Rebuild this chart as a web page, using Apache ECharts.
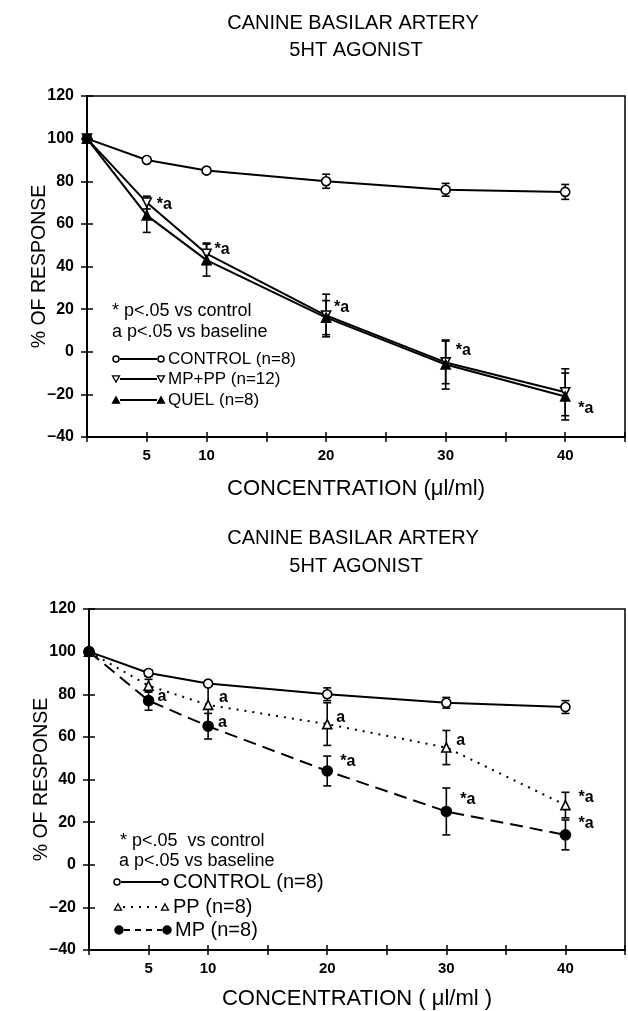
<!DOCTYPE html>
<html><head><meta charset="utf-8">
<script src="https://cdn.jsdelivr.net/npm/echarts@6/dist/echarts.min.js"></script>
<style>html,body{margin:0;padding:0;background:#fff}#c{width:628px;height:1011px}</style>
</head><body><div id="c"></div>
<script>
// ---- data ----
const concentrations = [0, 5, 10, 20, 30, 40];
const xTickLabels = [5, 10, 20, 30, 40];
const titleLine1 = 'CANINE BASILAR ARTERY';
const titleLine2 = '5HT AGONIST';

// top panel
const topControl    = [100, 90, 85, 80, 76, 75];
const topControlErr = [0, 0, 0, 3.3, 3, 3.5];
const topMpPp       = [100, 70, 46, 17, -5, -19];
const topMpPpErr    = [0, 3, 5, 10, 10, 11];
const topQuel       = [100, 64, 43, 16, -6, -21];
const topQuelErr    = [0, 8, 7.5, 8, 11.5, 11];
const topMpPpNotes  = ['', '*a', '*a', '*a', '*a', '*a'];

// bottom panel
const botControl    = [100, 90, 85, 80, 76, 74];
const botControlErr = [0, 1.5, 1, 3, 2.5, 3];
const botPp         = [100, 84, 75, 66, 55, 28];
const botPpErr      = [0, 3, 9, 10, 8, 6];
const botMp         = [100, 77, 65, 44, 25, 14];
const botMpErr      = [0, 4.5, 6, 7, 11, 7];
const botPpNotes    = ['', '', 'a', 'a', 'a', '*a'];
const botMpNotes    = ['', 'a', 'a', '*a', '*a', '*a'];

// label placement (pixels)
const topMpPpNoteOff = [null, [10, 2], [8, -4], [8, -8], [10, -12], [13, 16]];
const botPpNoteOff   = [null, null, [11, -7], [9, -6], [10, -7], [13, -7]];
const botMpNoteOff   = [null, [9, -4], [10, -4], [13, -9], [14, -12], [13, -11]];

const FONT = '"Liberation Sans", Arial, Helvetica, sans-serif';
const BLACK = '#000';

const chart = echarts.init(document.getElementById('c'), null, {renderer: 'canvas'});

const grids = [
  {left: 87, top: 96, width: 538, height: 341, show: true, borderColor: BLACK, borderWidth: 1.5, backgroundColor: 'transparent'},
  {left: 89, top: 609, width: 537, height: 342, show: true, borderColor: BLACK, borderWidth: 1.5, backgroundColor: 'transparent'}
];

function xAxes(gi, name, gap) {
  const main = {
    type: 'value', gridIndex: gi, min: 0, max: 45, interval: 5, position: 'bottom',
    axisLine: {show: true, onZero: false, lineStyle: {color: BLACK, width: 2}},
    axisTick: {show: true, inside: false, length: 5, lineStyle: {color: BLACK, width: 1.5}},
    splitLine: {show: false},
    axisLabel: {
      margin: 11, color: BLACK, fontFamily: FONT, fontSize: 15, fontWeight: 'bold',
      formatter: v => xTickLabels.indexOf(v) >= 0 ? String(v) : ''
    },
    name: name, nameLocation: 'middle', nameGap: gap, nameMoveOverlap: false,
    nameTextStyle: {color: BLACK, fontFamily: FONT, fontSize: 22}
  };
  const inner = {
    type: 'value', gridIndex: gi, min: 0, max: 45, interval: 5, position: 'bottom',
    axisLine: {show: false, onZero: false}, axisLabel: {show: false}, splitLine: {show: false},
    axisTick: {show: true, inside: true, length: 5, lineStyle: {color: BLACK, width: 1.5}}
  };
  return [main, inner];
}
function yAxes(gi) {
  const main = {
    type: 'value', gridIndex: gi, min: -40, max: 120, interval: 20, position: 'left',
    axisLine: {show: true, onZero: false, lineStyle: {color: BLACK, width: 2}},
    axisTick: {show: true, inside: false, length: 6, lineStyle: {color: BLACK, width: 1.5}},
    splitLine: {show: false},
    axisLabel: {
      margin: 13, color: BLACK, fontFamily: FONT, fontSize: 16, fontWeight: 'bold',
      formatter: v => v < 0 ? '\u2013' + Math.abs(v) : String(v)
    },
    name: '% OF RESPONSE', nameLocation: 'middle', nameGap: 37, nameRotate: 90, nameMoveOverlap: false,
    nameTextStyle: {color: BLACK, fontFamily: FONT, fontSize: 19.5}
  };
  const inner = {
    type: 'value', gridIndex: gi, min: -40, max: 120, interval: 20, position: 'left',
    axisLine: {show: false, onZero: false}, axisLabel: {show: false}, splitLine: {show: false},
    axisTick: {show: true, inside: true, length: 6, lineStyle: {color: BLACK, width: 1.5}}
  };
  return [main, inner];
}

function errRender(params, api) {
  const x = api.value(0), y = api.value(1), e = api.value(2);
  if (!e) return null;
  const t = api.coord([x, y + e]), b = api.coord([x, y - e]);
  const cap = 4, st = {stroke: BLACK, lineWidth: 1.6};
  return {type: 'group', children: [
    {type: 'line', shape: {x1: t[0], y1: t[1], x2: b[0], y2: b[1]}, style: st},
    {type: 'line', shape: {x1: t[0] - cap, y1: t[1], x2: t[0] + cap, y2: t[1]}, style: st},
    {type: 'line', shape: {x1: b[0] - cap, y1: b[1], x2: b[0] + cap, y2: b[1]}, style: st}
  ]};
}
function errSeries(gi, ys, errs) {
  return {
    type: 'custom', xAxisIndex: gi * 2, yAxisIndex: gi * 2, silent: true, z: 2,
    encode: {x: 0, y: 1},
    data: concentrations.map((x, i) => [x, ys[i], errs[i]]),
    renderItem: errRender
  };
}
function lineSeries(gi, name, ys, sym, notes, offs) {
  return {
    type: 'line', name: name, xAxisIndex: gi * 2, yAxisIndex: gi * 2, z: sym.z || 3,
    symbol: sym.symbol, symbolSize: sym.size, symbolRotate: sym.rotate || 0, showAllSymbol: true,
    itemStyle: {color: sym.fill, borderColor: BLACK, borderWidth: sym.bw || 1.6},
    lineStyle: {color: BLACK, width: 2, type: sym.dash || 'solid'},
    animation: false,
    data: concentrations.map((x, i) => {
      const item = {value: [x, ys[i]]};
      if (i === 0) item.itemStyle = {color: BLACK};
      if (notes && notes[i]) {
        item.label = {
          show: true, formatter: notes[i], position: 'inside', align: 'left', verticalAlign: 'middle',
          offset: offs[i], color: BLACK, textBorderWidth: 0, fontFamily: FONT, fontSize: 16, fontWeight: 'bold'
        };
      }
      return item;
    })
  };
}

const series = [
  errSeries(0, topControl, topControlErr),
  errSeries(0, topMpPp, topMpPpErr),
  errSeries(0, topQuel, topQuelErr),
  lineSeries(0, 'CONTROL', topControl, {symbol: 'circle', size: 9, fill: '#fff'}),
  lineSeries(0, 'MP+PP', topMpPp, {symbol: 'triangle', size: 9, rotate: 180, fill: '#fff'}, topMpPpNotes, topMpPpNoteOff),
  lineSeries(0, 'QUEL', topQuel, {symbol: 'triangle', size: 9, fill: BLACK, z: 4}),
  errSeries(1, botControl, botControlErr),
  errSeries(1, botPp, botPpErr),
  errSeries(1, botMp, botMpErr),
  lineSeries(1, 'CONTROL', botControl, {symbol: 'circle', size: 9, fill: '#fff'}),
  lineSeries(1, 'PP', botPp, {symbol: 'triangle', size: 9, fill: '#fff', dash: [2, 6]}, botPpNotes, botPpNoteOff),
  lineSeries(1, 'MP', botMp, {symbol: 'circle', size: 10, fill: BLACK, dash: [13, 7], z: 4}, botMpNotes, botMpNoteOff)
];

// ---- legend / titles as graphic ----
function txt(x, y, s, size, weight, align) {
  return {type: 'text', x: x, y: y, style: {text: s, fill: BLACK, font: (weight || 'normal') + ' ' + size + 'px ' + FONT, textAlign: align || 'left', textVerticalAlign: 'middle'}};
}
function circ(x, y, r, fill) {
  return {type: 'circle', shape: {cx: x, cy: y, r: r}, style: {fill: fill, stroke: BLACK, lineWidth: 1.5}};
}
function tri(x, y, s, down, fill) {
  const h = s * 0.9;
  const pts = down ? [[x - s / 2, y - h / 2], [x + s / 2, y - h / 2], [x, y + h / 2]]
                   : [[x - s / 2, y + h / 2], [x + s / 2, y + h / 2], [x, y - h / 2]];
  return {type: 'polygon', shape: {points: pts}, style: {fill: fill, stroke: BLACK, lineWidth: 1.3}};
}
function seg(x1, x2, y, dash) {
  return {type: 'line', shape: {x1: x1, y1: y, x2: x2, y2: y}, style: {stroke: BLACK, lineWidth: 1.8, lineDash: dash || null}};
}

const graphics = [
  txt(353, 23, titleLine1, 20, 'normal', 'center'),
  txt(356, 50, titleLine2, 20, 'normal', 'center'),
  txt(353, 538, titleLine1, 20, 'normal', 'center'),
  txt(356, 566, titleLine2, 20, 'normal', 'center'),
  // top legend
  txt(112, 311, '* p<.05 vs control', 18, 'normal'),
  txt(112, 332, 'a p<.05 vs baseline', 18, 'normal'),
  seg(120, 157, 359), circ(116, 359, 3, '#fff'), circ(161, 359, 3, '#fff'),
  txt(168, 359, 'CONTROL (n=8)', 17, 'normal'),
  seg(120, 157, 379), tri(116, 379, 7, true, '#fff'), tri(161, 379, 7, true, '#fff'),
  txt(168, 379, 'MP+PP (n=12)', 17, 'normal'),
  seg(120, 157, 400), tri(116, 400, 7, false, BLACK), tri(161, 400, 7, false, BLACK),
  txt(168, 400, 'QUEL (n=8)', 17, 'normal'),
  // bottom legend
  txt(120, 841, '* p<.05  vs control', 18, 'normal'),
  txt(119, 861, 'a p<.05 vs baseline', 18, 'normal'),
  seg(121, 161, 882), circ(117, 882, 3, '#fff'), circ(165, 882, 3, '#fff'),
  txt(173, 882, 'CONTROL (n=8)', 20, 'normal'),
  seg(123, 161, 907, [2, 6]), tri(118, 907, 7, false, '#fff'), tri(165, 907, 7, false, '#fff'),
  txt(173, 907, 'PP (n=8)', 20, 'normal'),
  seg(124, 162, 930, [6, 5]), circ(119, 930, 4, BLACK), circ(167, 930, 4, BLACK),
  txt(175, 930, 'MP (n=8)', 20, 'normal')
];

chart.setOption({
  backgroundColor: '#fff',
  animation: false,
  grid: grids,
  xAxis: [...xAxes(0, 'CONCENTRATION (\u03bcl/ml)', 41), ...xAxes(1, 'CONCENTRATION ( \u03bcl/ml )', 38)],
  yAxis: [...yAxes(0), ...yAxes(1)],
  series: series,
  graphic: graphics
});
</script></body></html>
